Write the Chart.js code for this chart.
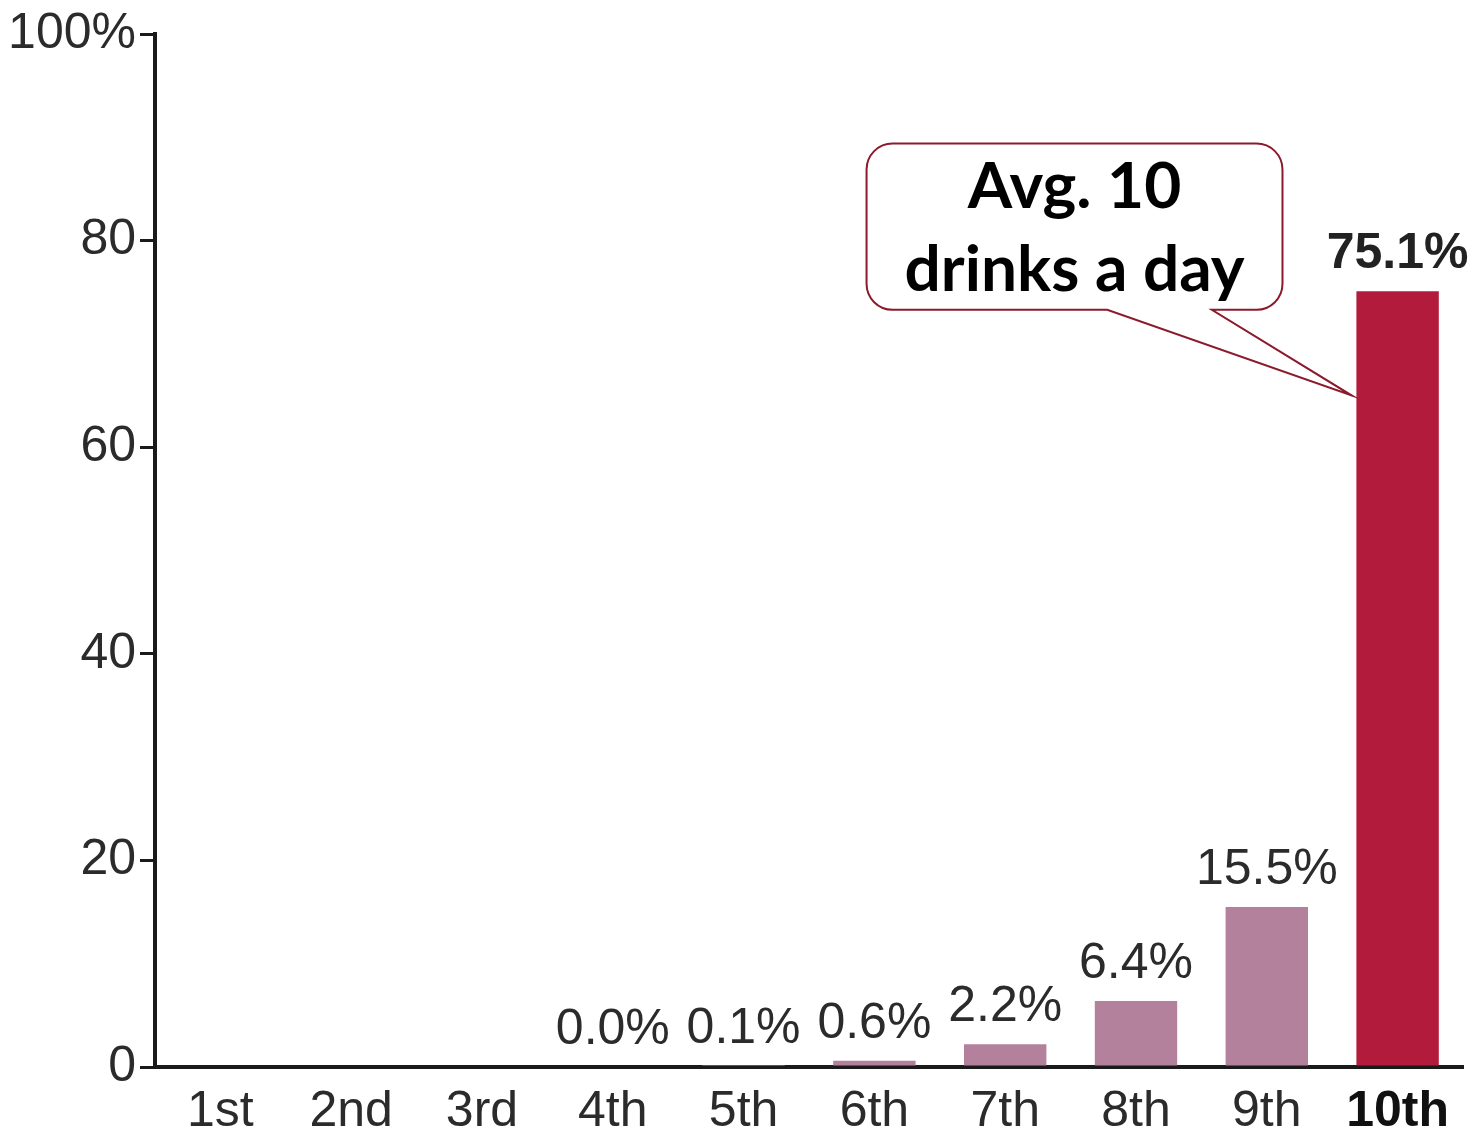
<!DOCTYPE html>
<html>
<head>
<meta charset="utf-8">
<style>
  html, body { margin: 0; padding: 0; background: #fff; }
  #wrap { width: 1474px; height: 1131px; position: relative; }
</style>
<script src="https://cdn.jsdelivr.net/npm/chart.js@4/dist/chart.umd.min.js"></script>
</head>
<body>
<div id="wrap"><canvas id="decileChart" width="1474" height="1131"></canvas></div>
<script>
// deciles and their share of all drinks
const categories = ['1st', '2nd', '3rd', '4th', '5th', '6th', '7th', '8th', '9th', '10th'];
const shares = [null, null, null, 0.0, 0.1, 0.6, 2.2, 6.4, 15.5, 75.1];
const yTicks = [0, 20, 40, 60, 80, 100];
const calloutLines = ['Avg. 10', 'drinks a day'];

const MAUVE = '#b3819b';
const CRIMSON = '#b31b3c';
const FONT = '"Liberation Sans", Arial, Helvetica, sans-serif';

// bar value labels, e.g. "15.5%"
const valueLabels = {
  id: 'valueLabels',
  afterDatasetsDraw(chart) {
    const ctx = chart.ctx;
    const meta = chart.getDatasetMeta(0);
    ctx.save();
    ctx.textAlign = 'center';
    ctx.textBaseline = 'alphabetic';
    meta.data.forEach((bar, i) => {
      const v = shares[i];
      if (v === null) return;
      const last = i === shares.length - 1;
      ctx.font = (last ? 'bold ' : '') + '50px ' + FONT;
      ctx.fillStyle = last ? '#222' : '#2b2b2b';
      ctx.fillText(v.toFixed(1) + '%', bar.x, bar.y - 23);
    });
    ctx.restore();
  }
};

// speech bubble pointing at the top decile
const callout = {
  id: 'callout',
  afterDatasetsDraw(chart) {
    const { ctx, scales: { x, y } } = chart;
    const left = x.getPixelForValue(4.94);
    const right = x.getPixelForValue(8.12);
    const top = y.getPixelForValue(89.4);
    const bottom = y.getPixelForValue(73.3);
    const baseA = x.getPixelForValue(6.78);
    const baseB = x.getPixelForValue(7.58);
    const tipX = x.getPixelForValue(8.65);
    const tipY = y.getPixelForValue(65);
    const r = 26;

    ctx.save();
    ctx.beginPath();
    ctx.moveTo(left + r, top);
    ctx.lineTo(right - r, top);
    ctx.arcTo(right, top, right, top + r, r);
    ctx.lineTo(right, bottom - r);
    ctx.arcTo(right, bottom, right - r, bottom, r);
    ctx.lineTo(baseB, bottom);
    ctx.lineTo(tipX, tipY);
    ctx.lineTo(baseA, bottom);
    ctx.lineTo(left + r, bottom);
    ctx.arcTo(left, bottom, left, bottom - r, r);
    ctx.lineTo(left, top + r);
    ctx.arcTo(left, top, left + r, top, r);
    ctx.closePath();
    ctx.fillStyle = '#fff';
    ctx.fill();
    ctx.lineWidth = 2;
    ctx.strokeStyle = '#8a1a2c';
    ctx.stroke();

    ctx.fillStyle = '#000';
    ctx.font = 'bold 64px Lato, "Open Sans", sans-serif';
    ctx.textAlign = 'center';
    ctx.textBaseline = 'middle';
    const cx = (left + right) / 2;
    ctx.fillText(calloutLines[0], cx, top + 44);
    ctx.fillText(calloutLines[1], cx, top + 127);
    ctx.restore();
  }
};

new Chart(document.getElementById('decileChart').getContext('2d'), {
  type: 'bar',
  data: {
    labels: categories,
    datasets: [{
      data: shares,
      backgroundColor: shares.map((v, i) => i === shares.length - 1 ? CRIMSON : MAUVE),
      borderWidth: 0,
      barPercentage: 0.63,
      categoryPercentage: 1.0
    }]
  },
  options: {
    responsive: false,
    animation: false,
    layout: { padding: { top: 30, right: 11, left: 0, bottom: 0 } },
    plugins: { legend: { display: false }, tooltip: { enabled: false } },
    scales: {
      x: {
        grid: { display: false },
        border: { display: true, color: '#1a1a1a', width: 4 },
        ticks: {
          padding: 7,
          maxRotation: 0,
          color: (c) => c.index === 9 ? '#111' : '#2b2b2b',
          font: (c) => ({ family: FONT, size: 50, weight: c.index === 9 ? 'bold' : 'normal' })
        },
        afterFit(scale) { scale.height = 64; }
      },
      y: {
        min: 0,
        max: 100,
        afterBuildTicks(scale) { scale.ticks = yTicks.map(v => ({ value: v })); },
        grid: { drawOnChartArea: false, drawTicks: true, tickLength: 15, color: '#1a1a1a', lineWidth: 3 },
        border: { display: true, color: '#1a1a1a', width: 4 },
        ticks: {
          padding: 4,
          color: '#2b2b2b',
          font: { family: FONT, size: 50 },
          callback: (v) => v === 100 ? '100%' : v
        },
        afterFit(scale) { scale.width = 155; }
      }
    }
  },
  plugins: [valueLabels, callout]
});
</script>
</body>
</html>
